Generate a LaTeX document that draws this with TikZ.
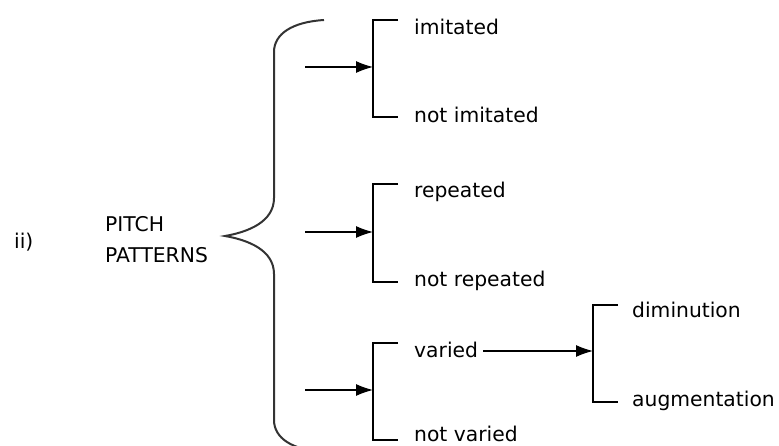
\documentclass[tikz,border=0pt]{standalone}
\usepackage{fontspec}
\setmainfont{DejaVu Sans}
\usetikzlibrary{arrows.meta,positioning}

\begin{document}
\begin{tikzpicture}[x=1pt,y=-1pt,
    lbl/.style={anchor=base west, inner sep=0pt, font=\fontsize{20.3}{23}\selectfont},
    bracket/.style={line width=1.3pt},
    arr/.style={line width=1.2pt, -{Latex[length=17pt,width=12pt]}},
    brace/.style={line width=2pt, black!80}]
            \useasboundingbox (0,0) rectangle (779,446);

            % Heading
            \node[lbl] (num) at (14,249) {ii)};
            \node[lbl] (pitch) at (105,232) {PITCH};
            \node[lbl] (patterns) at (105,263) {PATTERNS};

            % Big brace
            \draw[brace] (324,20) .. controls (292,22) and (274,34) .. (274,52)
                -- (274,198) .. controls (274,222) and (248,232) .. (225,236)
                .. controls (248,240) and (274,250) .. (274,274)
                -- (274,420) .. controls (274,438) and (292,450) .. (324,452);

            % Brackets
            \coordinate (b1t) at (373,20);  \coordinate (b1b) at (373,117);
            \coordinate (b2t) at (373,184); \coordinate (b2b) at (373,282);
            \coordinate (b3t) at (373,343); \coordinate (b3b) at (373,440);
            \coordinate (b4t) at (593,305); \coordinate (b4b) at (593,402);
            \foreach \b in {b1,b2,b3,b4}
                \draw[bracket] ([xshift=25pt]\b t) -- (\b t) -- (\b b) -- ([xshift=25pt]\b b);

            % Labels
            \node[lbl] (imit) at (414,35) {imitated};
            \node[lbl] (notimit) at (414,123) {not imitated};
            \node[lbl] (rep) at (414,198) {repeated};
            \node[lbl] (notrep) at (414,287) {not repeated};
            \node[lbl] (var) at (414,357) {varied};
            \node[lbl] (notvar) at (414,441) {not varied};
            \node[lbl] (dimin) at (632,318) {diminution};
            \node[lbl] (augm) at (632,406) {augmentation};

            % Arrows
            \coordinate (a1) at (305,67);
            \coordinate (a2) at (305,232);
            \coordinate (a3) at (305,390);
            \coordinate (a4) at (593,351);
            \draw[arr] (a1) -- (a1 -| b1t);
            \draw[arr] (a2) -- (a2 -| b2t);
            \draw[arr] (a3) -- (a3 -| b3t);
            \draw[arr] ([xshift=5pt]var.east |- a4) -- (a4);
\end{tikzpicture}
\end{document}
